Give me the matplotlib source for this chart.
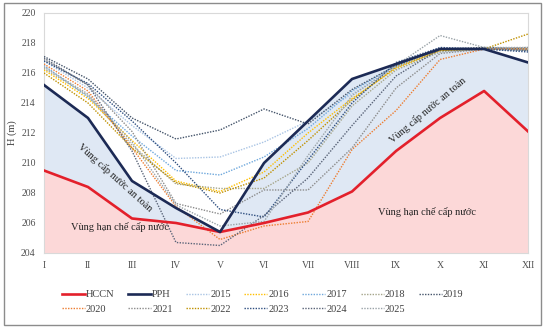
import matplotlib
matplotlib.use("Agg")
import matplotlib.pyplot as plt
from matplotlib.patches import Rectangle

plt.rcParams['font.family'] = ['Liberation Serif', 'DejaVu Serif']

months = ["I", "II", "III", "IV", "V", "VI", "VII", "VIII", "IX", "X", "XI", "XII"]
hccn = [209.5, 208.4, 206.3, 206.0, 205.4, 206.0, 206.7, 208.1, 210.8, 213.0, 214.8, 212.1]
pph = [215.2, 213.0, 208.8, 207.0, 205.4, 210.0, 212.8, 215.6, 216.6, 217.6, 217.6, 216.7]

years = ["2015", "2016", "2017", "2018", "2019", "2020",
         "2021", "2022", "2023", "2024", "2025"]
year_colors = ["#a9c4e4", "#ffc000", "#6fa8dc", "#a5a58a", "#44546a", "#ed7d31",
               "#8c8c8c", "#bf9000", "#2f4f80", "#5a6478", "#9aa3a8"]
year_levels = [
    [216.8, 215.0, 212.5, 210.3, 210.4, 211.4, 212.8, 214.6, 216.4, 217.4, 217.6, 217.5],
    [216.2, 214.3, 211.5, 208.8, 208.1, 209.4, 212.0, 214.3, 216.3, 217.5, 217.6, 217.6],
    [216.5, 214.4, 211.8, 209.5, 209.2, 210.4, 212.3, 214.8, 216.5, 217.6, 217.6, 217.5],
    [216.3, 214.5, 211.2, 208.6, 208.3, 208.3, 210.0, 213.8, 216.2, 217.4, 217.7, 217.5],
    [217.1, 215.6, 213.0, 211.6, 212.2, 213.6, 212.6, 214.9, 216.5, 217.6, 217.7, 217.6],
    [216.6, 214.8, 211.0, 207.1, 204.9, 205.8, 206.1, 210.9, 213.5, 216.9, 217.6, 217.6],
    [216.9, 215.2, 212.1, 207.3, 206.6, 208.2, 208.2, 211.0, 215.0, 217.3, 217.6, 217.7],
    [216.0, 214.0, 211.0, 208.7, 208.0, 209.0, 211.5, 214.2, 216.4, 217.5, 217.6, 218.6],
    [216.8, 215.3, 212.8, 210.0, 206.9, 206.4, 210.2, 214.0, 216.7, 217.7, 217.6, 217.4],
    [217.0, 215.2, 210.8, 204.7, 204.5, 206.5, 209.0, 212.5, 215.8, 217.6, 217.6, 217.5],
    [216.4, 214.6, 211.4, 207.2, 205.8, 206.1, 210.5, 214.5, 216.5, 218.5, 217.7, 217.7],
]

fig = plt.figure(figsize=(5.45, 3.28), dpi=100)
ax = fig.add_axes([0.0807, 0.2287, 0.8883, 0.7317])
x = list(range(len(months)))

ax.fill_between(x, 204, hccn, color="#fcd8d8", lw=0, zorder=1)
ax.fill_between(x, hccn, pph, color="#dfe8f4", lw=0, zorder=1)

handles = []
h1, = ax.plot(x, hccn, color="#e3202b", lw=1.9, zorder=4, label="HCCN")
h2, = ax.plot(x, pph, color="#1c2a55", lw=1.9, zorder=4, label="PPH")
handles += [h1, h2]
for name, col, vals in zip(years, year_colors, year_levels):
    h, = ax.plot(x, vals, color=col, lw=1.0, ls=(0, (1, 1)), zorder=3, label=name)
    handles.append(h)

ax.set_xlim(0, 11)
ax.set_ylim(204, 220)
ax.set_yticks(range(204, 221, 2))
ax.set_xticks(x)
ax.set_xticklabels(months)
ax.tick_params(length=0, labelsize=7, colors="#505050", pad=6)
ax.set_ylabel("H (m)", fontsize=7.5, color="#404040", labelpad=3)
for s in ax.spines.values():
    s.set_color("#d9d9d9")
    s.set_linewidth(0.8)

ax.text(1.61, 209.0, "Vùng cấp nước an toàn", rotation=-42, fontsize=7.5,
        ha="center", va="center", color="#222222", zorder=5)
ax.text(8.73, 213.5, "Vùng cấp nước an toàn", rotation=40, fontsize=7.5,
        ha="center", va="center", color="#222222", zorder=5)
ax.text(1.73, 205.7, "Vùng hạn chế cấp nước", fontsize=7.5,
        ha="center", va="center", color="#222222", zorder=5)
ax.text(8.7, 206.7, "Vùng hạn chế cấp nước", fontsize=7.5,
        ha="center", va="center", color="#222222", zorder=5)

# legend fills column by column: interleave the two rows
row1, row2 = handles[:7], handles[7:]
order = []
for i in range(7):
    order.append(row1[i])
    if i < len(row2):
        order.append(row2[i])
fig.legend(handles=order, ncol=7, loc="center", bbox_to_anchor=(0.482, 0.08),
           frameon=False, fontsize=7.5, handlelength=2.2, columnspacing=1.3,
           handletextpad=0.1, labelcolor="#404040", labelspacing=0.5)

fig.patches.append(Rectangle((0.008, 0.008), 0.984, 0.982, transform=fig.transFigure,
                             fill=False, edgecolor="#8c8c8c", lw=1.0))

fig.savefig("out.png", dpi=100)
